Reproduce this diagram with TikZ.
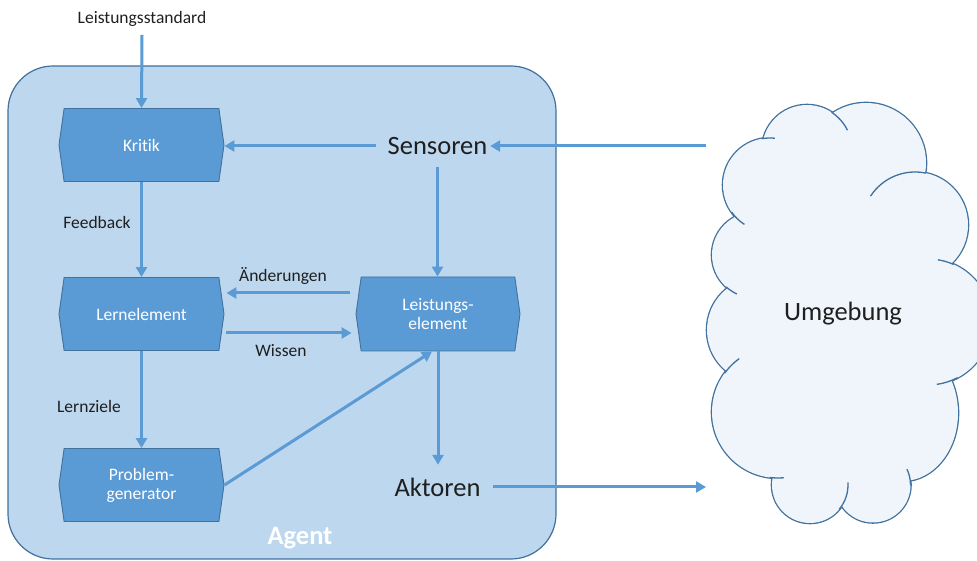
\documentclass[tikz,border=0pt]{standalone}
\usepackage{fontspec}
\setmainfont{Carlito}[Ligatures=NoCommon]
\usetikzlibrary{shapes.symbols,arrows.meta}
\definecolor{agentfill}{HTML}{BDD7EE}
\definecolor{agentedge}{HTML}{41719C}
\definecolor{boxfill}{HTML}{5B9BD5}
\definecolor{boxedge}{HTML}{41719C}
\definecolor{arrowblue}{HTML}{5B9BD5}
\definecolor{cloudfill}{HTML}{EFF5FB}
\definecolor{cloudedge}{HTML}{41719C}
\definecolor{labeltext}{HTML}{1F1F1F}
% inner arc of a cloud puff: centre, radius, start angle, end angle
\newcommand\cloudtail[4]{%
  \draw[cloudedge, line width=1.3pt] ([shift={(#3:#2)}]#1) arc[start angle=#3, end angle=#4, radius=#2];}
\begin{document}
\begin{tikzpicture}[x=1pt,y=1pt,
  hexbox/.style={signal, signal to=east and west, signal pointer angle=164,
    fill=boxfill, draw=boxedge, line width=0.9pt, text=white,
    minimum width=165pt, minimum height=73pt, inner sep=0pt, align=center,
    font=\fontsize{17.5}{19}\selectfont},
  smalllabel/.style={text=labeltext, inner sep=0pt, font=\fontsize{17.5}{19}\selectfont},
  biglabel/.style={text=labeltext, inner sep=0pt, font=\fontsize{26.5}{30}\selectfont},
  arr/.style={draw=arrowblue, line width=3pt, -{Triangle[length=10pt,width=11pt]}},
  puffedge/.style={draw=cloudedge, line width=2.6pt},
]
\useasboundingbox (0,0) rectangle (977,561);

% agent container
\node[draw=agentedge, fill=agentfill, line width=1.2pt, rounded corners=45pt,
      minimum width=548pt, minimum height=493pt, inner sep=0pt] (agent) at (282,248.5) {};
\node[text=white, inner sep=0pt, font=\bfseries\fontsize{26.5}{30}\selectfont] (agentlabel) at (300,23) {Agent};

% environment cloud: union of puffs, outlined on the outside only
\begin{scope}
  \clip (0,0) rectangle (977,561);
  \foreach \px/\py/\prx/\pry in {770/376/47/47, 807/411/45/45, 866/398/60/60,
      915/336/53/53, 928/239/63/63, 903/148/55/68, 873/76/37.5/37.5,
      810/76/38/38, 778/149/66/66, 760/231/53/53, 755/306/43/43}
    \draw[puffedge] (\px,\py) ellipse[x radius=\prx, y radius=\pry];
  \foreach \px/\py/\prx/\pry in {770/376/47/47, 807/411/45/45, 866/398/60/60,
      915/336/53/53, 928/239/63/63, 903/148/55/68, 873/76/37.5/37.5,
      810/76/38/38, 778/149/66/66, 760/231/53/53, 755/306/43/43}
    \fill[cloudfill] (\px,\py) ellipse[x radius=\prx, y radius=\pry];
  \fill[cloudfill] (770,376) -- (807,411) -- (866,398) -- (915,336) -- (928,239)
    -- (903,148) -- (873,76) -- (810,76) -- (778,149) -- (760,231) -- (755,306) -- cycle;
  \cloudtail{770,376}{47}{100}{84}
  \cloudtail{770,376}{47}{215}{237}
  \cloudtail{807,411}{45}{57}{26}
  \cloudtail{915,336}{53}{147}{78}
  \cloudtail{928,239}{63}{81}{66}
  \cloudtail{928,239}{63}{-62}{-82}
  \cloudtail{873,76}{37.5}{0}{25}
  \cloudtail{810,76}{38}{-40}{4}
  \cloudtail{778,149}{66}{-97}{-85}
  \cloudtail{778,149}{66}{144}{126}
  \cloudtail{755,306}{43}{228}{245}
\end{scope}
\node[biglabel] (umgebung) at (843,247) {Umgebung};
\coordinate (cloudin) at (706,415);
\coordinate (cloudout) at (706,74);

% agent components
\node[hexbox] (kritik) at (141.5,416) {Kritik};
\node[hexbox] (lern) at (141.5,247) {Lernelement};
\node[hexbox] (probgen) at (141.5,76) {Problem-\\generator};
\node[hexbox, minimum width=164pt, minimum height=74pt] (leist) at (438,247) {Leistungs-\\element};

\node[biglabel, minimum width=123pt, minimum height=42pt] (sens) at (437.5,415) {Sensoren};
\node[biglabel, minimum width=111pt, minimum height=44pt] (akt) at (437.5,74) {Aktoren};

\node[smalllabel] (ls) at (142,542) {Leistungsstandard};
\node[smalllabel] (feedback) at (97,339) {Feedback};
\node[smalllabel] (aend) at (283,285) {Änderungen};
\node[smalllabel] (wissen) at (281,210) {Wissen};
\node[smalllabel] (lernziele) at (89,155) {Lernziele};

% connections
\draw[arr] ([yshift=-8pt]ls.south) -- (kritik.north);
\draw[arr] (cloudin) -- ([xshift=-9pt]sens.east);
\draw[arr] (sens.west) -- (kritik.east |- sens.west);
\draw[arr] (sens.south) -- (sens.south |- leist.north);
\draw[arr] (kritik.south) -- (lern.north);
\draw[arr] ([yshift=21pt, xshift=-6pt]leist.west) -- ([yshift=21pt, xshift=2pt]lern.east);
\draw[arr] ([yshift=-19pt, xshift=2pt]lern.east) -- ([yshift=-19pt, xshift=-4pt]leist.west);
\draw[arr] (lern.south) -- (probgen.north);
\draw[arr] (probgen.east) -- ([xshift=-6pt]leist.south);
\draw[arr] (leist.south) -- (leist.south |- akt.north);
\draw[arr] (akt.east) -- (cloudout);
\end{tikzpicture}
\end{document}
